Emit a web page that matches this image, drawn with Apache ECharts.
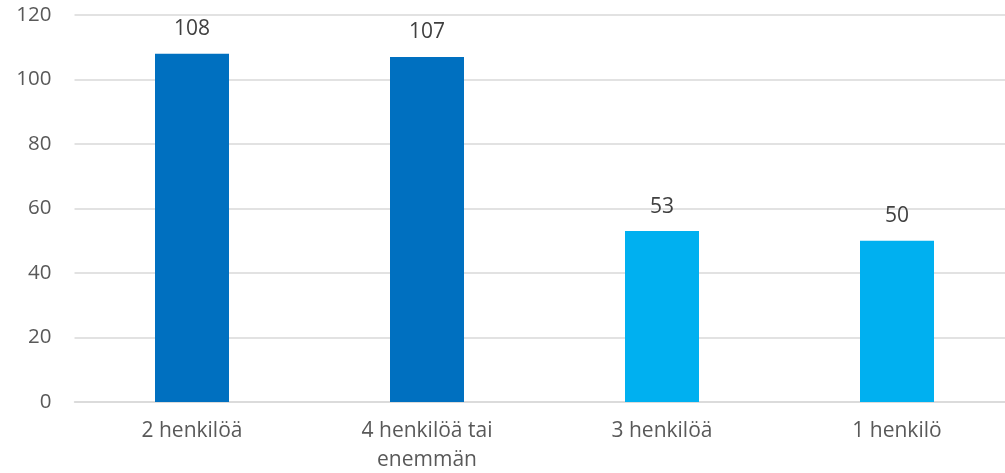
<!DOCTYPE html>
<html>
<head>
<meta charset="utf-8">
<script src="https://cdn.jsdelivr.net/npm/echarts@6/dist/echarts.min.js"></script>
<style>
  html, body { margin: 0; padding: 0; background: #fff; }
  #chart { width: 1005px; height: 473px; }
</style>
</head>
<body>
<div id="chart"></div>
<script>
// data
var categories = ['2 henkilöä', '4 henkilöä tai\nenemmän', '3 henkilöä', '1 henkilö'];
var values = [108, 107, 53, 50];
var barColors = ['#0070C0', '#0070C0', '#00B0F0', '#00B0F0'];
var yTicks = { min: 0, max: 120, interval: 20 };

var myChart = echarts.init(document.getElementById('chart'));

var option = {
  animation: false,
  textStyle: { fontFamily: 'Open Sans', color: '#595959' },
  // plot runs past the right edge, like in the original image
  grid: {
    left: 74.5,
    width: 940,
    top: 15,
    height: 387,
    outerBoundsMode: 'none'
  },
  xAxis: {
    type: 'category',
    data: categories,
    axisLine: { show: true, lineStyle: { color: '#d9d9d9', width: 1.5 } },
    axisTick: { show: false },
    axisLabel: {
      color: '#595959',
      fontSize: 21,
      margin: 15,
      lineHeight: 29,
      interval: 0
    }
  },
  yAxis: {
    type: 'value',
    min: yTicks.min,
    max: yTicks.max,
    interval: yTicks.interval,
    axisLine: { show: false },
    axisTick: { show: false },
    splitLine: { lineStyle: { color: '#d9d9d9', width: 1.5 } },
    axisLabel: { color: '#595959', fontSize: 20.5, margin: 23 }
  },
  series: [
    {
      type: 'bar',
      data: values.map(function (v, i) {
        return { value: v, itemStyle: { color: barColors[i] } };
      }),
      barWidth: 74,
      label: {
        show: true,
        position: 'top',
        distance: 14,
        color: '#404040',
        fontSize: 21
      }
    }
  ]
};

myChart.setOption(option);
</script>
</body>
</html>
